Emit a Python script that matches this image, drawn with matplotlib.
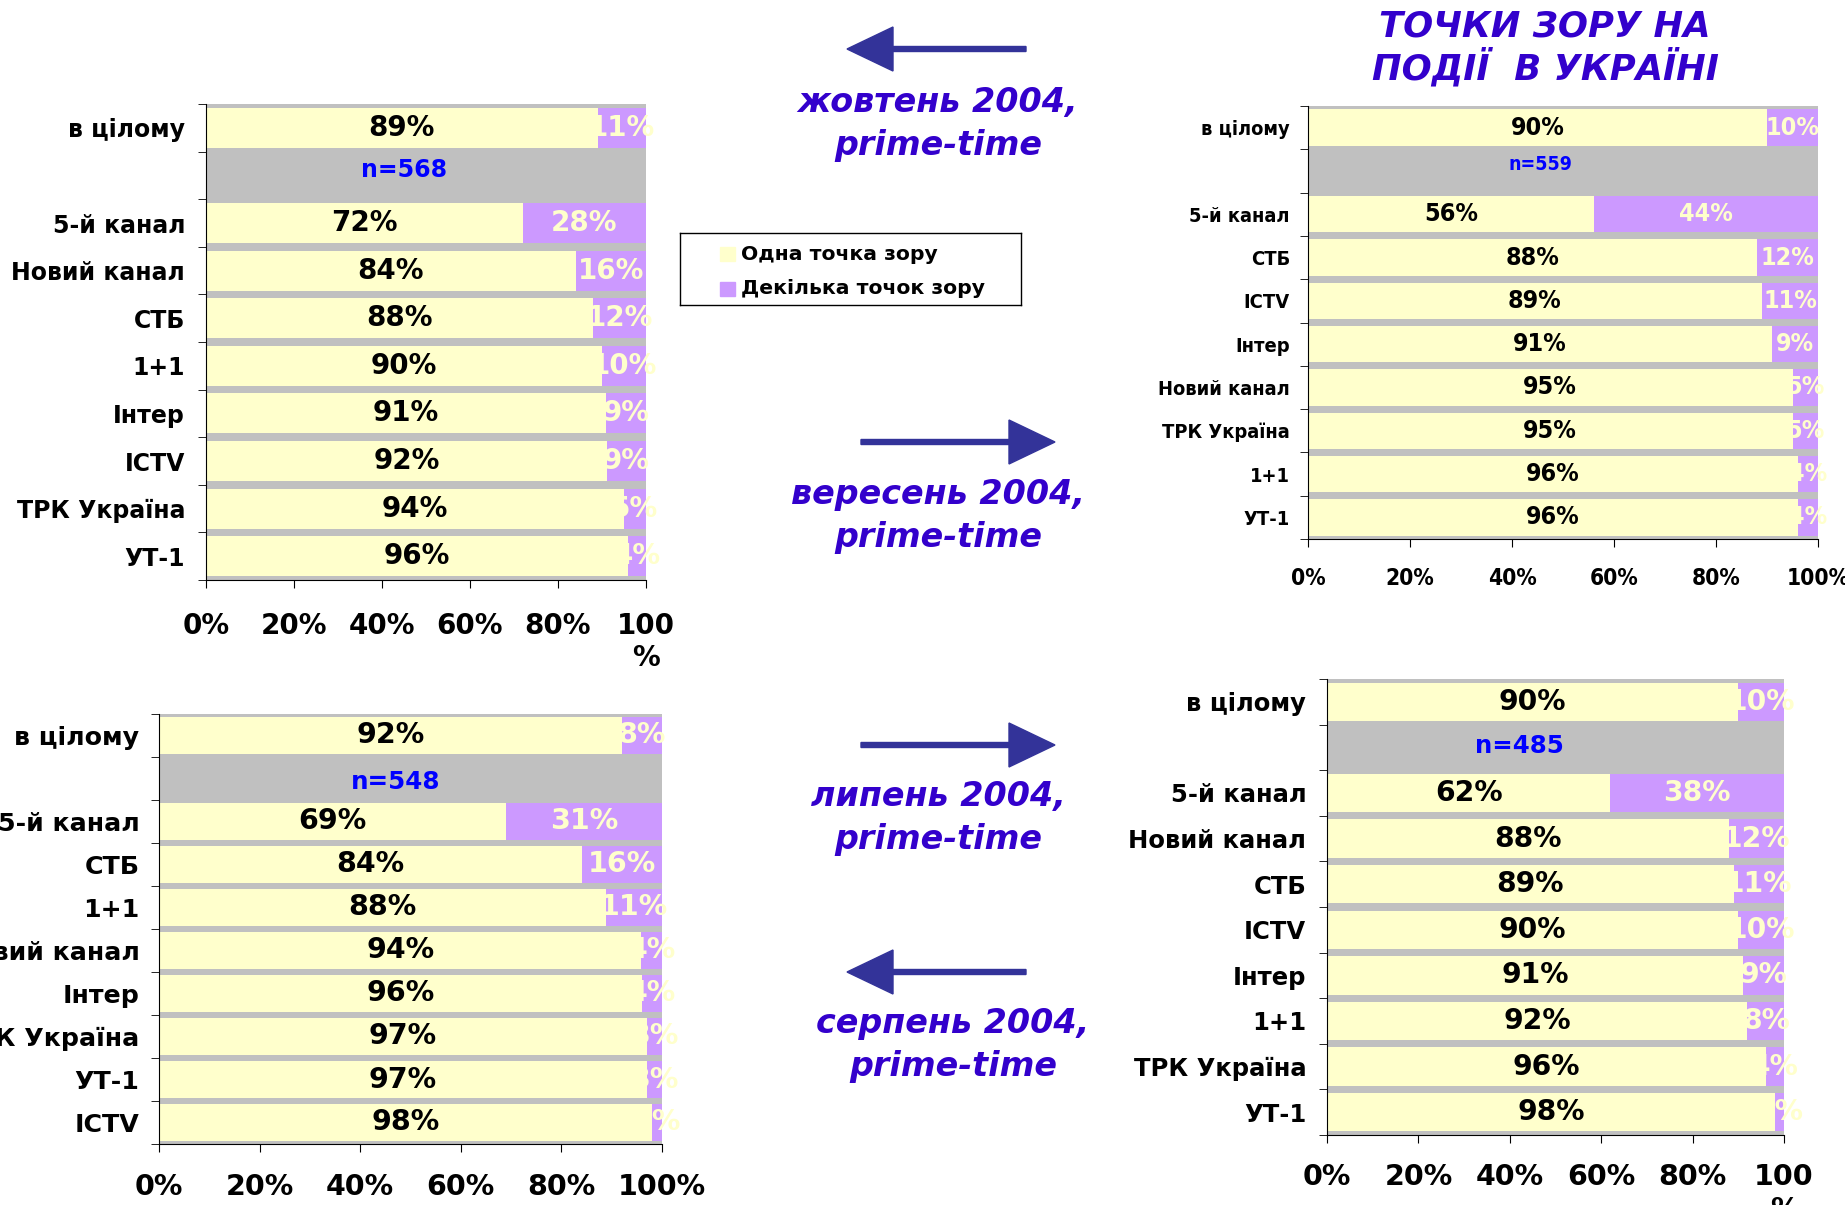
import numpy as np
import matplotlib
matplotlib.use('Agg')
import matplotlib.pyplot as plt
from matplotlib import font_manager
from matplotlib.patches import FancyArrow, Rectangle

# condensed face for the top-right chart, if one is installed
fonts = font_manager.fontManager.ttflist
if any(f.name == 'DejaVu Sans' and f.stretch == 'condensed' for f in fonts):
    NARROW, NSTRETCH, K = 'DejaVu Sans', 'condensed', 1.1
elif any(f.name == 'Liberation Sans Narrow' for f in fonts):
    NARROW, NSTRETCH, K = 'Liberation Sans Narrow', 'normal', 1.3
else:
    NARROW, NSTRETCH, K = 'DejaVu Sans', 'normal', 1.0

YELLOW = '#FFFFCC'
PURPLE = '#CC99FF'
GRAY = '#C0C0C0'
TITLE_BLUE = '#3300CC'
ARROW_BLUE = '#333399'

legend_labels = ['Одна точка зору', 'Декілька точок зору']

# October 2004 (top left)
oct_cats = ['в цілому', '5-й канал', 'Новий канал', 'СТБ', '1+1', 'Інтер', 'ICTV', 'ТРК Україна', 'УТ-1']
oct_one = [89, 72, 84, 88, 90, 91, 92, 94, 96]
oct_many = [11, 28, 16, 12, 10, 9, 9, 5, 4]
oct_n = 'n=568'

# September 2004 (top right)
sep_cats = ['в цілому', '5-й канал', 'СТБ', 'ICTV', 'Інтер', 'Новий канал', 'ТРК Україна', '1+1', 'УТ-1']
sep_one = [90, 56, 88, 89, 91, 95, 95, 96, 96]
sep_many = [10, 44, 12, 11, 9, 5, 5, 4, 4]
sep_n = 'n=559'

# July 2004 (bottom left)
jul_cats = ['в цілому', '5-й канал', 'СТБ', '1+1', 'Новий канал', 'Інтер', 'ТРК Україна', 'УТ-1', 'ICTV']
jul_one = [92, 69, 84, 88, 94, 96, 97, 97, 98]
jul_many = [8, 31, 16, 11, 4, 4, 3, 3, 2]
jul_n = 'n=548'

# August 2004 (bottom right)
aug_cats = ['в цілому', '5-й канал', 'Новий канал', 'СТБ', 'ICTV', 'Інтер', '1+1', 'ТРК Україна', 'УТ-1']
aug_one = [90, 62, 88, 89, 90, 91, 92, 96, 98]
aug_many = [10, 38, 12, 11, 10, 9, 8, 4, 2]
aug_n = 'n=485'

W, H = 1845, 1205
fig = plt.figure(figsize=(W / 100, H / 100), dpi=100)


def px_rect(left, top, right, bottom):
    return [left / W, 1 - bottom / H, (right - left) / W, (bottom - top) / H]


def draw_panel(rect, cats, one, many, n_label, n_xy, fam, stretch, fs_cat, fs_val, fs_tick, fs_n,
               ypad, xpad, last_tick):
    ax = fig.add_axes(rect)
    ax.set_facecolor(GRAY)
    pos = [0] + list(range(2, len(cats) + 1))
    # 100% stacked: shares of the two answers
    s_one = [o / (o + m) * 100 for o, m in zip(one, many)]
    s_many = [100 - s for s in s_one]
    ax.barh(pos, s_one, height=0.84, color=YELLOW, zorder=2)
    ax.barh(pos, s_many, left=s_one, height=0.84, color=PURPLE, zorder=2)
    font = dict(fontweight='bold', family=fam, fontstretch=stretch)
    for y, a, b, o, m in zip(pos, s_one, s_many, one, many):
        ax.text(a / 2, y, f'{o}%', ha='center', va='center', fontsize=fs_val,
                color='black', zorder=3, **font)
        ax.text(a + b / 2, y, f'{m}%', ha='center', va='center', fontsize=fs_val,
                color=YELLOW, zorder=3, **font)
    ax.text(n_xy[0], n_xy[1], n_label, ha='center', va='center', fontsize=fs_n,
            color='#0000FF', zorder=3, **font)

    ax.set_xlim(0, 100)
    ax.set_ylim(9.5, -0.5)
    ax.set_yticks(pos, cats)
    ax.set_yticks(np.arange(-0.5, 10, 1), minor=True)
    ax.tick_params(axis='y', which='major', length=0, pad=ypad)
    ax.tick_params(axis='y', which='minor', length=6, direction='out', color='black')
    ax.set_xticks([0, 20, 40, 60, 80, 100], ['0%', '20%', '40%', '60%', '80%', last_tick])
    ax.tick_params(axis='x', length=6, direction='out', color='black', pad=xpad)
    for lab in ax.get_yticklabels():
        lab.set_fontsize(fs_cat)
        lab.set_fontweight('bold')
        lab.set_family(fam)
        lab.set_stretch(stretch)
    for lab in ax.get_xticklabels():
        lab.set_fontsize(fs_tick)
        lab.set_fontweight('bold')
        lab.set_family(fam)
        lab.set_stretch(stretch)
    ax.spines['top'].set_visible(False)
    ax.spines['right'].set_visible(False)
    ax.spines['left'].set_color('black')
    ax.spines['bottom'].set_color('black')
    return ax


draw_panel(px_rect(206, 104, 646, 580), oct_cats, oct_one, oct_many, oct_n, (45, 0.88),
           'DejaVu Sans', 'normal', 17, 20, 20, 17, 15, 17, '100\n%')
draw_panel(px_rect(1308, 106, 1818, 539), sep_cats, sep_one, sep_many, sep_n, (45.5, 0.85),
           NARROW, NSTRETCH, 13.1 * K, 16.4 * K, 14.8 * K, 12.8 * K, 13, 14, '100%')
draw_panel(px_rect(159, 714, 662, 1144), jul_cats, jul_one, jul_many, jul_n, (47, 1.07),
           'DejaVu Sans', 'normal', 18.2, 20.5, 20.5, 17.7, 14, 15, '100%')
draw_panel(px_rect(1327, 679, 1784, 1135), aug_cats, aug_one, aug_many, aug_n, (42, 0.98),
           'DejaVu Sans', 'normal', 17.5, 20.3, 20.5, 17.6, 15, 14.5, '100\n%')

# legend box
lax = fig.add_axes(px_rect(680, 233, 1021, 305))
lax.set_xlim(0, 1)
lax.set_ylim(0, 1)
lax.set_xticks([])
lax.set_yticks([])
for sp in lax.spines.values():
    sp.set_color('black')
    sp.set_linewidth(1)
for y, c, lab in zip([0.705, 0.225], [YELLOW, PURPLE], legend_labels):
    lax.add_patch(Rectangle((0.117, y - 0.1), 0.043, 0.2, color=c))
    lax.text(0.18, y, lab, ha='left', va='center', fontsize=14.7, fontweight='bold')

# arrows between periods
arrows = [(1026, 49, 847), (861, 442, 1055), (861, 745, 1055), (1026, 972, 847)]
for x0, y0, x1 in arrows:
    fig.add_artist(FancyArrow(x0 / 100, (H - y0) / 100, (x1 - x0) / 100, 0,
                              width=0.05, head_width=0.44, head_length=0.46,
                              length_includes_head=True, color=ARROW_BLUE,
                              transform=fig.dpi_scale_trans))

periods = [('жовтень 2004,\nprime-time', 938, 124),
           ('вересень 2004,\nprime-time', 938, 516),
           ('липень 2004,\nprime-time', 938, 818),
           ('серпень 2004,\nprime-time', 953, 1045)]
for txt, x, y in periods:
    fig.text(x / W, 1 - y / H, txt, ha='center', va='center', fontsize=24,
             fontweight='bold', fontstyle='italic', color=TITLE_BLUE, linespacing=1.4)

fig.text(1545 / W, 1 - 48 / H, 'ТОЧКИ ЗОРУ НА\nПОДІЇ  В УКРАЇНІ', ha='center', va='center',
         fontsize=25.5, fontweight='bold', fontstyle='italic', color=TITLE_BLUE, linespacing=1.1)

fig.savefig('out.png', dpi=100)
